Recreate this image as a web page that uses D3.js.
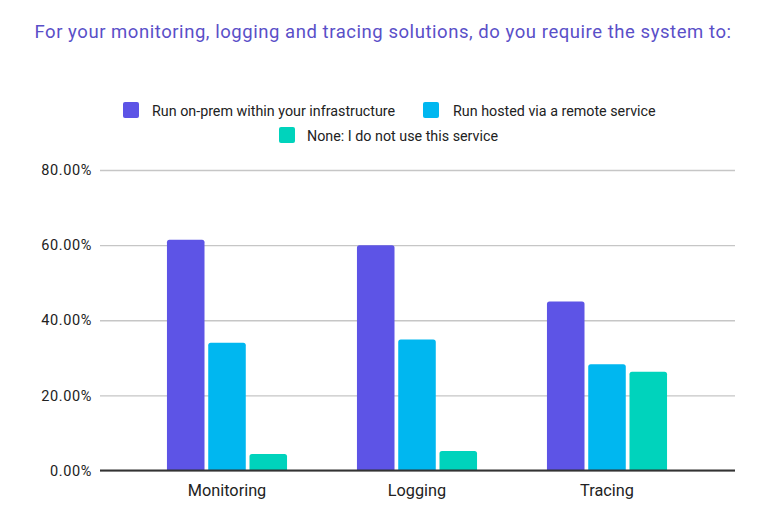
<!DOCTYPE html>
<html><head><meta charset="utf-8">
<script src="https://cdn.jsdelivr.net/npm/d3@7"></script>
<style>body{margin:0;background:#fff}svg{display:block}text{font-family:Roboto,"Noto Sans",sans-serif}</style>
</head><body><svg id="c" width="763" height="529"></svg>
<script>
const categories = ["Monitoring", "Logging", "Tracing"];
const seriesNames = ["Run on-prem within your infrastructure", "Run hosted via a remote service", "None: I do not use this service"];
const onPrem = [61.4, 60.0, 45.0];
const hosted = [34.0, 34.9, 28.3];
const noneUse = [4.4, 5.2, 26.3];
const yTicks = [0, 20, 40, 60, 80];
const colors = ["#5D54E6", "#00B7F0", "#00D3BC"];
const series = [onPrem, hosted, noneUse];

const svg = d3.select("#c");
svg.append("text").attr("x", 383).attr("y", 38).attr("text-anchor", "middle")
  .attr("fill", "#5A4FC8").attr("font-size", 18.5).attr("letter-spacing", 0.55)
  .text("For your monitoring, logging and tracing solutions, do you require the system to:");

const y = d3.scaleLinear().domain([0, 80]).range([470.5, 170]);
const x0 = d3.scaleBand().domain(categories).range([132, 702]).paddingInner(0.368).paddingOuter(0.184);
const x1 = d3.scaleBand().domain(d3.range(3)).range([0, x0.bandwidth()]).paddingInner(0.09);

// grid
const yAxis = d3.axisLeft(y).tickValues(yTicks).tickSize(-635).tickFormat(d => d.toFixed(2) + "%");
const ga = svg.append("g").attr("transform", "translate(100,0)").call(yAxis);
ga.select(".domain").remove();
ga.selectAll(".tick line").attr("stroke", "#c6c6c6").attr("stroke-width", 1.3);
ga.selectAll(".tick text").attr("x", -8).attr("font-size", 14.5).attr("fill", "#222").attr("letter-spacing", 0.6)
  .style("font-family", "Roboto, sans-serif");

// bars
const r = 2.5;
function barPath(x, yTop, w, yBase) {
  return `M${x},${yBase}V${yTop + r}Q${x},${yTop} ${x + r},${yTop}H${x + w - r}Q${x + w},${yTop} ${x + w},${yTop + r}V${yBase}Z`;
}
categories.forEach((c, i) => {
  series.forEach((s, j) => {
    svg.append("path")
      .attr("d", barPath(x0(c) + x1(j), y(s[i]), x1.bandwidth(), y(0)))
      .attr("fill", colors[j]);
  });
});

// zero line
svg.append("line").attr("x1", 100).attr("x2", 735).attr("y1", y(0)).attr("y2", y(0))
  .attr("stroke", "#333").attr("stroke-width", 2);

// x labels
const xAxis = d3.axisBottom(x0).tickSize(0).tickPadding(0);
const gx = svg.append("g").attr("transform", `translate(0,${y(0)})`).call(xAxis);
gx.select(".domain").remove();
gx.selectAll(".tick text").attr("y", 25).attr("dy", 0).attr("font-size", 16.3).attr("fill", "#222")
  .style("font-family", "Roboto, sans-serif");

// legend
const legendPos = [
  {sx: 123, sy: 102, tx: 152, ty: 116},
  {sx: 423, sy: 102, tx: 453, ty: 116},
  {sx: 279, sy: 127, tx: 307, ty: 141}
];
seriesNames.forEach((n, j) => {
  const p = legendPos[j];
  svg.append("rect").attr("x", p.sx).attr("y", p.sy).attr("width", 16).attr("height", 16).attr("rx", 2).attr("fill", colors[j]);
  svg.append("text").attr("x", p.tx).attr("y", p.ty).attr("font-size", 14.3).attr("fill", "#222").text(n);
});
</script></body></html>
